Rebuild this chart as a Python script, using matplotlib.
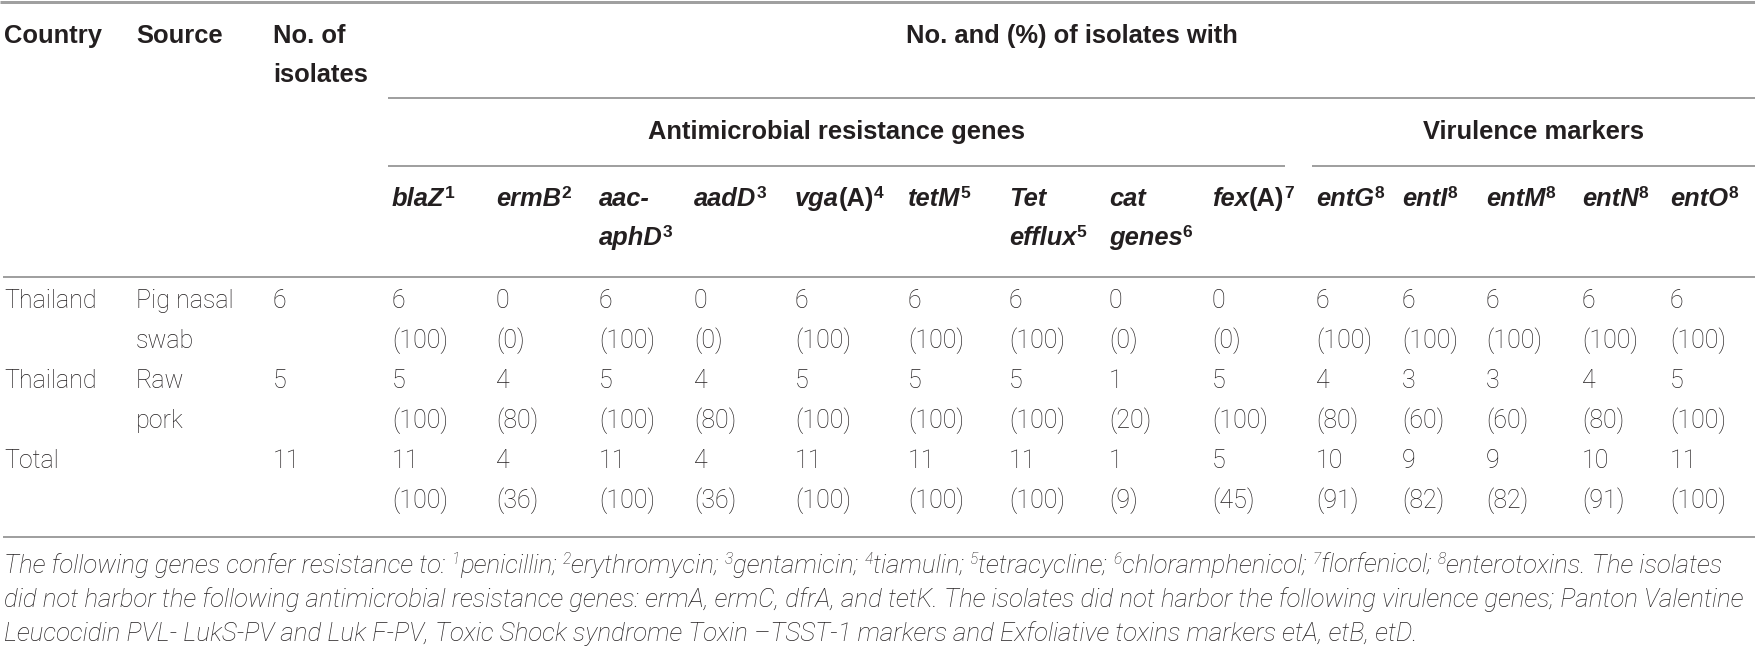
import matplotlib
matplotlib.use("Agg")
import matplotlib.pyplot as plt

# ---------------- data ----------------
countries = ["Thailand", "Thailand", "Total"]
sources = [["Pig nasal", "swab"], ["Raw", "pork"], []]
n_isolates = [6, 5, 11]

# header labels: list of lines, each line a list of (text, kind)
gene_labels = [
    [[("blaZ", "bi"), ("1", "sup")]],
    [[("ermB", "bi"), ("2", "sup")]],
    [[("aac-", "bi")], [("aphD", "bi"), ("3", "sup")]],
    [[("aadD", "bi"), ("3", "sup")]],
    [[("vga", "bi"), ("(A)", "b"), ("4", "sup")]],
    [[("tetM", "bi"), ("5", "sup")]],
    [[("Tet", "bi")], [("efflux", "bi"), ("5", "sup")]],
    [[("cat", "bi")], [("genes", "bi"), ("6", "sup")]],
    [[("fex", "bi"), ("(A)", "b"), ("7", "sup")]],
    [[("entG", "bi"), ("8", "sup")]],
    [[("entI", "bi"), ("8", "sup")]],
    [[("entM", "bi"), ("8", "sup")]],
    [[("entN", "bi"), ("8", "sup")]],
    [[("entO", "bi"), ("8", "sup")]],
]

counts = [
    [6, 0, 6, 0, 6, 6, 6, 0, 0, 6, 6, 6, 6, 6],
    [5, 4, 5, 4, 5, 5, 5, 1, 5, 4, 3, 3, 4, 5],
    [11, 4, 11, 4, 11, 11, 11, 1, 5, 10, 9, 9, 10, 11],
]
percents = [
    [100, 0, 100, 0, 100, 100, 100, 0, 0, 100, 100, 100, 100, 100],
    [100, 80, 100, 80, 100, 100, 100, 20, 100, 80, 60, 60, 80, 100],
    [100, 36, 100, 36, 100, 100, 100, 9, 45, 91, 82, 82, 91, 100],
]

footnote_lines = [
    [("The following genes confer resistance to: ", "i"), ("1", "isup"), ("penicillin; ", "i"),
     ("2", "isup"), ("erythromycin; ", "i"), ("3", "isup"), ("gentamicin; ", "i"),
     ("4", "isup"), ("tiamulin; ", "i"), ("5", "isup"), ("tetracycline; ", "i"),
     ("6", "isup"), ("chloramphenicol; ", "i"), ("7", "isup"), ("florfenicol; ", "i"),
     ("8", "isup"), ("enterotoxins. The isolates", "i")],
    [("did not harbor the following antimicrobial resistance genes: ermA, ermC, dfrA, and "
      "tetK. The isolates did not harbor the following virulence genes; Panton Valentine", "i")],
    [("Leucocidin PVL- LukS-PV and Luk F-PV, Toxic Shock syndrome Toxin \u2013TSST-1 markers "
      "and Exfoliative toxins markers etA, etB, etD.", "i")],
]

# ---------------- layout / style ----------------
W, H = 1755, 659
TXT = "#231f20"
LINE = "#a0a0a0"
HEAD_FONT = "Liberation Sans"
BODY_FONT = "Roboto"
BODY_WEIGHT = "light"
HEAD_PX = 25.5
BODY_PX = 25.0

col_x = [392, 496, 599, 694, 795, 908, 1009, 1109, 1212, 1316, 1402, 1486, 1582, 1670]
x_country, x_source, x_n = 4, 136, 273

fig = plt.figure(figsize=(W / 100, H / 100), dpi=100)
ax = fig.add_axes([0, 0, 1, 1])
ax.set_xlim(0, W)
ax.set_ylim(H, 0)
ax.axis("off")
renderer = fig.canvas.get_renderer()


def pt(px):
    return px * 72.0 / 100.0


def style_of(kind, size_px, family):
    if kind == "bi":
        return dict(fontsize=pt(size_px), fontweight="bold", fontstyle="italic", family=family), 0
    if kind == "b":
        return dict(fontsize=pt(size_px), fontweight="bold", fontstyle="normal", family=family), 0
    if kind == "sup":
        return dict(fontsize=pt(size_px * 0.68), fontweight="bold", fontstyle="normal", family=family), -size_px * 0.32
    if kind == "isup":
        return dict(fontsize=pt(size_px * 0.6), fontweight=BODY_WEIGHT, fontstyle="italic", family=family), -size_px * 0.36
    if kind == "i":
        return dict(fontsize=pt(size_px), fontweight=BODY_WEIGHT, fontstyle="italic", family=family), 0
    return dict(fontsize=pt(size_px), fontweight=BODY_WEIGHT, fontstyle="normal", family=family), 0


def text_width(s, props):
    t1 = ax.text(0, 0, s + "|", **props)
    t2 = ax.text(0, 0, "|", **props)
    w = t1.get_window_extent(renderer).width - t2.get_window_extent(renderer).width
    t1.remove()
    t2.remove()
    return w


def runs_width(runs, size_px, family):
    return sum(text_width(s, style_of(k, size_px, family)[0]) for s, k in runs)


def draw_runs(x, y, runs, size_px, family, ha="left"):
    if ha == "center":
        x = x - runs_width(runs, size_px, family) / 2.0
    for s, k in runs:
        props, dy = style_of(k, size_px, family)
        ax.text(x, y + dy, s, va="baseline", ha="left", color=TXT, **props)
        x += text_width(s, props)


# ---------------- rules ----------------
def hline(x0, x1, y, wpx):
    ax.plot([x0, x1], [y, y], color=LINE, lw=pt(wpx), solid_capstyle="butt")


hline(0, W, 1.5, 3)
hline(388, W, 98, 2)
hline(388, 1285, 166, 2)
hline(1312, W, 166, 2)
hline(3, W, 277, 2)
hline(3, W, 537, 2)

# ---------------- header ----------------
hb = dict(fontsize=pt(HEAD_PX), fontweight="bold", family=HEAD_FONT, color=TXT, va="baseline")
ax.text(x_country, 43, "Country", **hb)
ax.text(x_source, 43, "Source", **hb)
ax.text(x_n, 43, "No. of", **hb)
ax.text(x_n, 82, "isolates", **hb)
ax.text((388 + W) / 2, 43, "No. and (%) of isolates with", ha="center", **hb)
ax.text((388 + 1285) / 2, 139, "Antimicrobial resistance genes", ha="center", **hb)
ax.text((1312 + W) / 2, 139, "Virulence markers", ha="center", **hb)

gene_base = [206, 245]
for cx, lines in zip(col_x, gene_labels):
    for li, runs in enumerate(lines):
        draw_runs(cx, gene_base[li], runs, HEAD_PX, HEAD_FONT)

# ---------------- body ----------------
bb = dict(fontsize=pt(BODY_PX), fontweight=BODY_WEIGHT, family=BODY_FONT, color=TXT, va="baseline")
row_base = [308, 388, 468]
line_gap = 40
for r in range(len(countries)):
    y0 = row_base[r]
    ax.text(x_country, y0, countries[r], **bb)
    for li, s in enumerate(sources[r]):
        ax.text(x_source, y0 + li * line_gap, s, **bb)
    ax.text(x_n, y0, str(n_isolates[r]), **bb)
    for c, cx in enumerate(col_x):
        ax.text(cx, y0, str(counts[r][c]), **bb)
        ax.text(cx, y0 + line_gap, "(%d)" % percents[r][c], **bb)

# ---------------- footnote ----------------
FOOT_FONT = "Roboto"
targets = [1740, 1738]
sizes = []
for runs, tgt in zip(footnote_lines[:2], targets):
    w0 = runs_width(runs, 20, FOOT_FONT)
    sizes.append(20 * tgt / w0)
foot_px = min(sizes)
foot_base = [573, 607, 641]
for y, runs in zip(foot_base, footnote_lines):
    draw_runs(4, y, runs, foot_px, FOOT_FONT)

fig.savefig("out.png", dpi=100)
